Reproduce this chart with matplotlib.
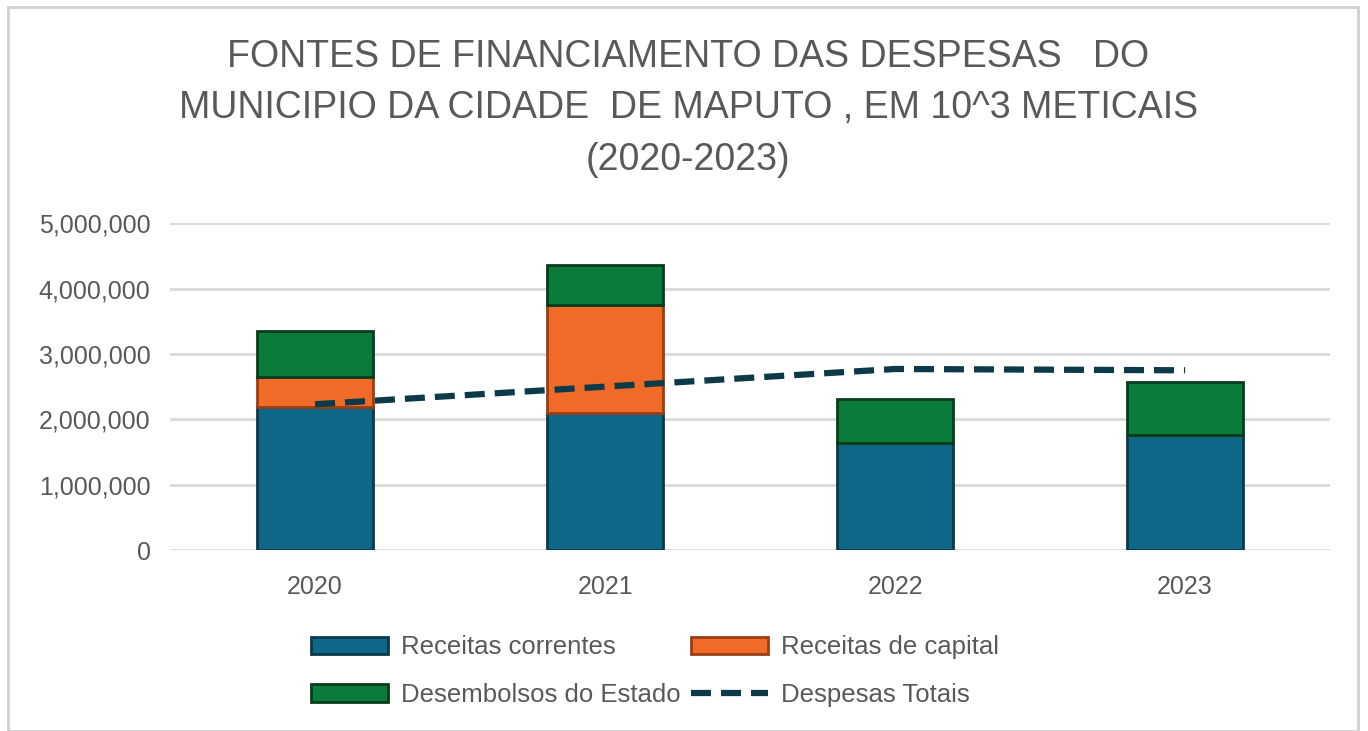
import matplotlib.pyplot as plt
from matplotlib.patches import Rectangle
from matplotlib.ticker import FuncFormatter

# Dados (10^3 meticais)
anos = ['2020', '2021', '2022', '2023']
receitas_correntes = [2190000, 2100000, 1640000, 1760000]
receitas_capital = [460000, 1650000, 0, 0]
desembolsos_estado = [700000, 610000, 670000, 810000]
despesas_totais = [2230000, 2500000, 2770000, 2750000]

cor_azul = '#0F6787'
cor_laranja = '#F06A28'
cor_verde = '#0B7B3B'
cor_linha = '#0C3A48'
cor_texto = '#595959'

plt.rcParams['font.family'] = ['Liberation Sans', 'DejaVu Sans']

fig = plt.figure(figsize=(13.68, 7.31), dpi=100)
fig.patches.append(Rectangle((0.006, 0.0), 0.987, 0.99, transform=fig.transFigure,
                             fill=False, edgecolor='#d0d0d0', linewidth=2))
ax = fig.add_axes([0.1243, 0.2476, 0.848, 0.447])

x = range(len(anos))
largura = 0.40
base2 = receitas_correntes
base3 = [a + b for a, b in zip(receitas_correntes, receitas_capital)]

b1 = ax.bar(x, receitas_correntes, largura, color=cor_azul, edgecolor='#0A3A4A',
            linewidth=2, label='Receitas correntes', zorder=3)
b2 = ax.bar(x, receitas_capital, largura, bottom=base2, color=cor_laranja,
            edgecolor='#9A3E16', linewidth=2, label='Receitas de capital', zorder=3)
b3 = ax.bar(x, desembolsos_estado, largura, bottom=base3, color=cor_verde,
            edgecolor='#073D1D', linewidth=2, label='Desembolsos do Estado', zorder=3)
l1, = ax.plot(x, despesas_totais, color=cor_linha, linewidth=4.5, linestyle=(0, (3.2, 1.6)),
              label='Despesas Totais', zorder=4)

ax.set_xlim(-0.5, 3.5)
ax.set_ylim(0, 5000000)
ax.set_yticks(range(0, 5000001, 1000000))
ax.yaxis.set_major_formatter(FuncFormatter(lambda v, p: f'{int(v):,}'))
ax.set_xticks(list(x))
ax.set_xticklabels(anos)
ax.tick_params(axis='both', length=0, labelsize=18, labelcolor=cor_texto)
ax.tick_params(axis='y', pad=14)
ax.tick_params(axis='x', pad=18)
ax.grid(axis='y', color='#d9d9d9', linewidth=2, zorder=0)
for s in ax.spines.values():
    s.set_visible(False)

fig.text(0.503, 0.852, 'FONTES DE FINANCIAMENTO DAS DESPESAS   DO\n'
         'MUNICIPIO DA CIDADE  DE MAPUTO , EM 10^3 METICAIS\n(2020-2023)',
         ha='center', va='center', fontsize=27, color=cor_texto, linespacing=1.55)

fig.legend([b1, b3, b2, l1],
           ['Receitas correntes', 'Desembolsos do Estado', 'Receitas de capital', 'Despesas Totais'],
           ncol=2, loc='center', bbox_to_anchor=(0.479, 0.082), frameon=False,
           fontsize=18.5, labelcolor=cor_texto, handlelength=3.0, handleheight=0.7,
           handletextpad=0.5, columnspacing=0.4, labelspacing=0.9)

fig.savefig('out.png', dpi=100)
